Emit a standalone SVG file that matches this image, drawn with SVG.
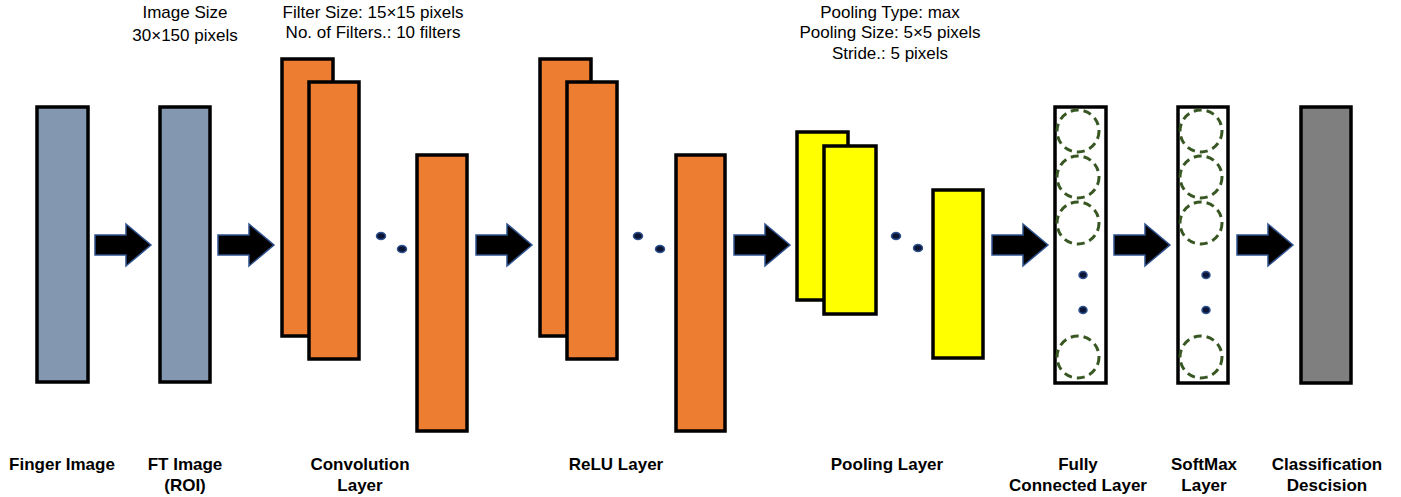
<svg xmlns="http://www.w3.org/2000/svg" xmlns:xlink="http://www.w3.org/1999/xlink" width="1401" height="497" viewBox="0 0 1401 497">
<style>
.blk{stroke:#000;stroke-width:3.5}
.gray{fill:#8497b0}
.org{fill:#ed7d31}
.yel{fill:#ffff00}
.wht{fill:#fff}
.dk{fill:#7f7f7f}
.neu{fill:none;stroke:#385723;stroke-width:3;stroke-dasharray:8 5}
.dot{fill:#0b1636;stroke:#2f528f;stroke-width:1.5}
.arr{fill:#000;stroke:#2f528f;stroke-width:1.5}
.t{font-family:"Liberation Sans",Arial,sans-serif;font-size:17px;fill:#000;text-anchor:middle}
.b{font-family:"Liberation Sans",Arial,sans-serif;font-size:17px;font-weight:bold;fill:#000;text-anchor:middle}
</style>
<defs>
<path id="arrow" d="M0,235 H31 V224 L56,245 L31,266 V255 H0 Z"/>
</defs>
<rect width="1401" height="497" fill="#fff"/>
<g id="annotations">
<text class="t" x="185" y="18">Image Size</text>
<text class="t" x="185" y="41">30×150 pixels</text>
<text class="t" x="373" y="18">Filter Size: 15×15 pixels</text>
<text class="t" x="373" y="38">No. of Filters.: 10 filters</text>
<text class="t" x="890" y="18">Pooling Type: max</text>
<text class="t" x="890" y="38">Pooling Size: 5×5 pixels</text>
<text class="t" x="890" y="59">Stride.: 5 pixels</text>
</g>
<g id="finger-image">
<rect class="blk gray" x="37" y="107" width="51" height="275"/>
<text class="b" x="62" y="470">Finger Image</text>
</g>
<g id="ft-image">
<rect class="blk gray" x="160" y="107" width="50" height="275"/>
<text class="b" x="185" y="470">FT Image</text>
<text class="b" x="185" y="491">(ROI)</text>
</g>
<g id="convolution-layer">
<rect class="blk org" x="282" y="59" width="51" height="277"/>
<rect class="blk org" x="309" y="82" width="50" height="277"/>
<ellipse class="dot" cx="381" cy="236" rx="4.5" ry="3.5"/>
<ellipse class="dot" cx="402" cy="249" rx="4.5" ry="3.5"/>
<rect class="blk org" x="417" y="155" width="50" height="276"/>
<text class="b" x="360" y="470">Convolution</text>
<text class="b" x="360" y="491">Layer</text>
</g>
<g id="relu-layer">
<rect class="blk org" x="540" y="59" width="51" height="277"/>
<rect class="blk org" x="567" y="82" width="50" height="277"/>
<ellipse class="dot" cx="638" cy="236" rx="4.5" ry="3.5"/>
<ellipse class="dot" cx="660" cy="249" rx="4.5" ry="3.5"/>
<rect class="blk org" x="676" y="155" width="49" height="276"/>
<text class="b" x="616" y="470">ReLU Layer</text>
</g>
<g id="pooling-layer">
<rect class="blk yel" x="797" y="132" width="51" height="168"/>
<rect class="blk yel" x="824" y="146" width="52" height="168"/>
<ellipse class="dot" cx="896" cy="236" rx="4.5" ry="3.5"/>
<ellipse class="dot" cx="918" cy="248" rx="4.5" ry="3.5"/>
<rect class="blk yel" x="933" y="190" width="50" height="168"/>
<text class="b" x="887" y="470">Pooling Layer</text>
</g>
<g id="fully-connected-layer">
<rect class="blk wht" x="1055" y="107" width="51" height="276"/>
<circle class="neu" cx="1078" cy="131" r="21"/>
<circle class="neu" cx="1078" cy="177" r="21"/>
<circle class="neu" cx="1078" cy="223" r="21"/>
<ellipse class="dot" cx="1083" cy="275" rx="4" ry="3.5"/>
<ellipse class="dot" cx="1083" cy="310" rx="4" ry="3.5"/>
<circle class="neu" cx="1078" cy="357" r="21"/>
<text class="b" x="1078" y="470">Fully</text>
<text class="b" x="1078" y="491">Connected Layer</text>
</g>
<g id="softmax-layer">
<rect class="blk wht" x="1178" y="107" width="50" height="276"/>
<circle class="neu" cx="1201" cy="131" r="21"/>
<circle class="neu" cx="1201" cy="177" r="21"/>
<circle class="neu" cx="1201" cy="223" r="21"/>
<ellipse class="dot" cx="1206" cy="275" rx="4" ry="3.5"/>
<ellipse class="dot" cx="1206" cy="310" rx="4" ry="3.5"/>
<circle class="neu" cx="1201" cy="357" r="21"/>
<text class="b" x="1204" y="470">SoftMax</text>
<text class="b" x="1204" y="491">Layer</text>
</g>
<g id="classification-decision">
<rect class="blk dk" x="1301" y="107" width="50" height="276"/>
<text class="b" x="1327" y="470">Classification</text>
<text class="b" x="1327" y="491">Descision</text>
</g>
<g id="connectors">
<use xlink:href="#arrow" href="#arrow" class="arr" x="95"/>
<use xlink:href="#arrow" href="#arrow" class="arr" x="218"/>
<use xlink:href="#arrow" href="#arrow" class="arr" x="476"/>
<use xlink:href="#arrow" href="#arrow" class="arr" x="734"/>
<use xlink:href="#arrow" href="#arrow" class="arr" x="992"/>
<use xlink:href="#arrow" href="#arrow" class="arr" x="1114"/>
<use xlink:href="#arrow" href="#arrow" class="arr" x="1237"/>
</g>
</svg>
